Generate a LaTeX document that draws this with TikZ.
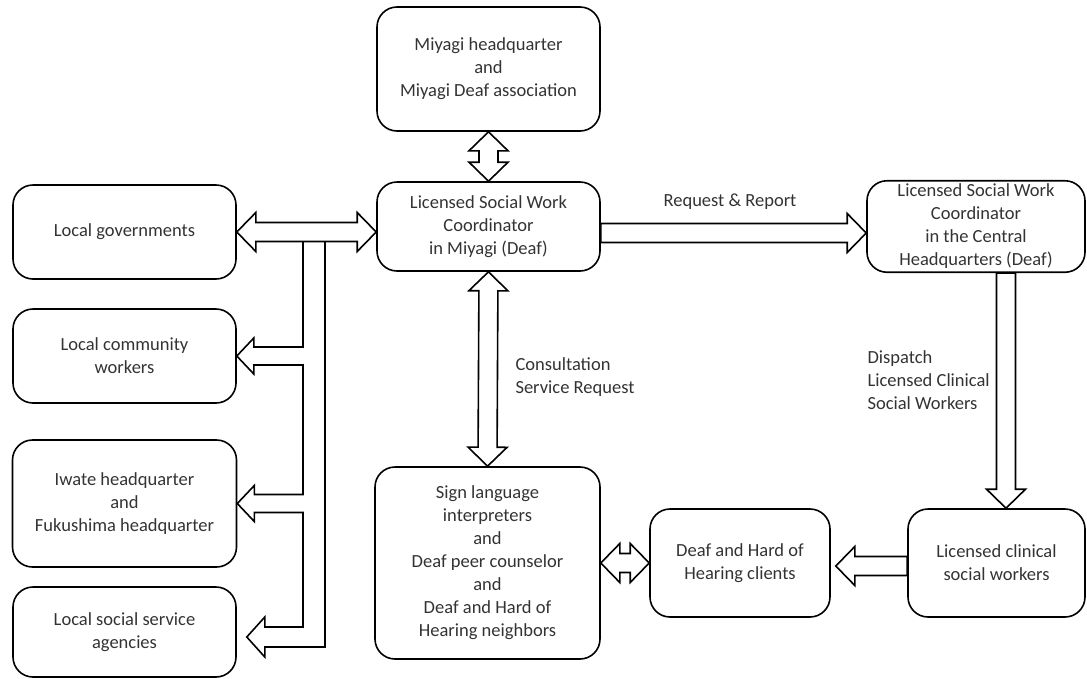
\documentclass[tikz,border=0pt]{standalone}
\usepackage{fontspec}
\setmainfont{Carlito}
\usetikzlibrary{calc}

\definecolor{txt}{HTML}{333333}
\tikzset{
  box/.style={draw, line width=1.6pt, rounded corners=20pt, align=center,
    text=txt, font=\fontsize{18.5}{23}\selectfont},
  blk/.style={draw, line width=1.6pt, line join=miter, fill=white},
  lbl/.style={text=txt, font=\fontsize{18.5}{23}\selectfont}
}

% hollow block arrow from #1 to #2
\newcommand\onearrow[2]{%
  \draw[blk] ($(#1)!9.5pt!90:(#2)$) -- ($(#2)!19pt!(#1)!9.5pt!-90:(#1)$)
    -- ($(#2)!19pt!(#1)!19.5pt!-90:(#1)$) -- (#2)
    -- ($(#2)!19pt!(#1)!19.5pt!90:(#1)$) -- ($(#2)!19pt!(#1)!9.5pt!90:(#1)$)
    -- ($(#1)!9.5pt!-90:(#2)$) -- cycle;}
% hollow block arrow with two heads
\newcommand\twoarrow[2]{%
  \draw[blk] ($(#1)!19pt!(#2)!9.5pt!90:(#2)$) -- ($(#2)!19pt!(#1)!9.5pt!-90:(#1)$)
    -- ($(#2)!19pt!(#1)!19.5pt!-90:(#1)$) -- (#2)
    -- ($(#2)!19pt!(#1)!19.5pt!90:(#1)$) -- ($(#2)!19pt!(#1)!9.5pt!90:(#1)$)
    -- ($(#1)!19pt!(#2)!9.5pt!-90:(#2)$) -- ($(#1)!19pt!(#2)!19.5pt!-90:(#2)$)
    -- (#1) -- ($(#1)!19pt!(#2)!19.5pt!90:(#2)$) -- cycle;}

\begin{document}
\begin{tikzpicture}[x=1pt, y=-1pt]
  \useasboundingbox (0,0) rectangle (1087,678);

  % boxes
  \node[box, minimum width=223pt, minimum height=124pt] (hq) at (488.5,69)
    {Miyagi headquarter\\and\\Miyagi Deaf association};
  \node[box, minimum width=223pt, minimum height=89pt] (coord) at (488.5,226.5)
    {Licensed Social Work\\Coordinator\\in Miyagi (Deaf)};
  \node[box, minimum width=218pt, minimum height=91pt] (central) at (976,226.5)
    {Licensed Social Work\\Coordinator\\in the Central\\Headquarters (Deaf)};
  \node[box, minimum width=223pt, minimum height=94pt] (gov) at (124.5,232)
    {Local governments};
  \node[box, minimum width=223pt, minimum height=94pt] (comm) at (124.5,356)
    {Local community\\workers};
  \node[box, minimum width=224pt, minimum height=127pt] (iwate) at (124.5,503.5)
    {Iwate headquarter\\and\\Fukushima headquarter};
  \node[box, minimum width=223pt, minimum height=90pt] (agen) at (124.5,632)
    {Local social service\\agencies};
  \node[box, minimum width=225pt, minimum height=192pt] (sign) at (487.5,563)
    {Sign language\\interpreters\\and\\Deaf peer counselor\\and\\Deaf and Hard of\\Hearing neighbors};
  \node[box, minimum width=180pt, minimum height=108pt] (clients) at (740,563)
    {Deaf and Hard of\\Hearing clients};
  \node[box, minimum width=177pt, minimum height=108pt] (clin) at (996.5,563)
    {Licensed clinical\\social workers};

  % labels
  \node[lbl] (rr) at (730,202) {Request \& Report};
  \node[lbl, anchor=west, align=left] (cs) at (512,377)
    {Consultation\\Service Request};
  \node[lbl, anchor=west, align=left] (dp) at (864,380)
    {Dispatch\\Licensed Clinical\\Social Workers};

  % arrows
  \coordinate (a1) at ($(coord.east)+(0,6.5)$);
  \coordinate (a2) at ($(central.west)+(0,6.5)$);
  \coordinate (cd) at (1006,0);
  \coordinate (ag) at ($(agen.east)+(10,5)$);
  \coordinate (tin) at (303,241);
  \coordinate (tout) at (325,241);

  \draw[blk] (tin) -- ($(tin |- comm.east)+(0,-9)$) -- ($(comm.east)+(17,-9)$)
    -- ($(comm.east)+(17,-18)$) -- (comm.east) -- ($(comm.east)+(17,18)$)
    -- ($(comm.east)+(17,9)$) -- ($(tin |- comm.east)+(0,9)$)
    -- ($(tin |- iwate.east)+(0,-9)$) -- ($(iwate.east)+(17,-9)$)
    -- ($(iwate.east)+(17,-18)$) -- (iwate.east) -- ($(iwate.east)+(17,18)$)
    -- ($(iwate.east)+(17,9)$) -- ($(tin |- iwate.east)+(0,9)$)
    -- ($(tin |- ag)+(0,-10)$) -- ($(ag)+(18,-10)$)
    -- ($(ag)+(18,-20)$) -- (ag) -- ($(ag)+(18,20)$)
    -- ($(ag)+(18,10)$) -- ($(tout |- ag)+(0,10)$) -- (tout);

  \twoarrow{gov.east}{gov.east -| coord.west}
  \twoarrow{hq.south}{coord.north}
  \twoarrow{coord.south}{sign.north}
  \onearrow{a1}{a2}
  \onearrow{cd |- central.south}{cd |- clin.north}
  \onearrow{$(clin.west)+(0,3)$}{$(clients.east)+(5,3)$}
  \twoarrow{sign.east |- clients.west}{clients.west}
\end{tikzpicture}
\end{document}
